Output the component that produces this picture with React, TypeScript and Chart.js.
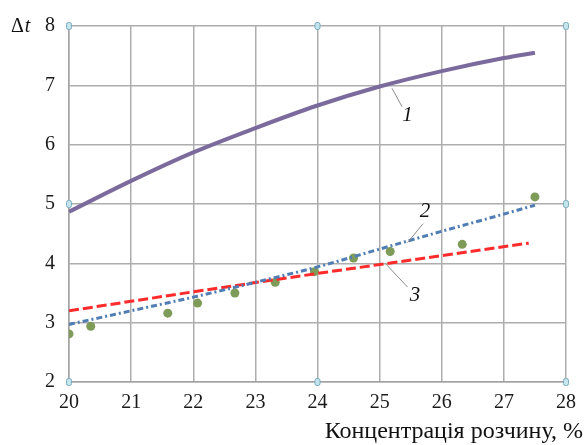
import React, { useEffect, useRef } from "react";
import { Chart, registerables } from "chart.js";

Chart.register(...registerables);

// Curve 1 (solid purple)
const c1X = [20, 21, 22, 23, 24, 25, 26, 27, 27.5];
const c1Y = [4.87, 5.39, 5.87, 6.28, 6.66, 6.98, 7.24, 7.46, 7.55];
// Curve 2 (blue dash-dot)
const c2X = [20, 21, 22, 23, 24, 25, 26, 27, 27.5];
const c2Y = [2.97, 3.2, 3.43, 3.68, 3.94, 4.24, 4.54, 4.83, 4.98];
// Curve 3 (red dashed)
const c3X = [20, 22, 24, 26, 27.4];
const c3Y = [3.2, 3.52, 3.83, 4.13, 4.34];
// Experimental points
const ptX = [20, 20.35, 21.59, 22.07, 22.67, 23.32, 23.95, 24.58, 25.17, 26.33, 27.5];
const ptY = [2.81, 2.94, 3.16, 3.33, 3.5, 3.68, 3.86, 4.09, 4.2, 4.32, 5.12];

const xTicks = [20, 21, 22, 23, 24, 25, 26, 27, 28];
const yTicks = [2, 3, 4, 5, 6, 7, 8];
const xTitle = "Концентрація розчину, %";

// curve annotations in data units: label, label pos, leader start, leader end
const notes = [
  { t: "1", lx: 25.45, ly: 6.5, ax: 25.2, ay: 6.95, bx: 25.36, by: 6.64 },
  { t: "2", lx: 25.73, ly: 4.88, ax: 25.45, ay: 4.35, bx: 25.7, by: 4.67 },
  { t: "3", lx: 25.57, ly: 3.45, ax: 25.09, ay: 4.0, bx: 25.45, by: 3.6 },
];

const SERIF = "'Liberation Serif', 'DejaVu Serif', serif";

const toXY = (xs: number[], ys: number[]) => xs.map((x, i) => ({ x, y: ys[i] }));

export default function App() {
  const ref = useRef<HTMLCanvasElement | null>(null);
  useEffect(() => {
    document.body.style.margin = "0";
    const overlay = {
      id: "overlay",
      afterDraw(chart: any) {
        const ctx = chart.ctx;
        const xs = chart.scales.x;
        const ys = chart.scales.y;
        const a = chart.chartArea;
        ctx.save();
        // annotations
        for (const n of notes) {
          ctx.strokeStyle = "#8a8a8a";
          ctx.lineWidth = 1;
          ctx.beginPath();
          ctx.moveTo(xs.getPixelForValue(n.ax), ys.getPixelForValue(n.ay));
          ctx.lineTo(xs.getPixelForValue(n.bx), ys.getPixelForValue(n.by));
          ctx.stroke();
          ctx.fillStyle = "#111";
          ctx.font = `italic 21px ${SERIF}`;
          ctx.textAlign = "center";
          ctx.textBaseline = "middle";
          ctx.fillText(n.t, xs.getPixelForValue(n.lx), ys.getPixelForValue(n.ly));
        }
        // handles
        const mx = (a.left + a.right) / 2;
        const my = (a.top + a.bottom) / 2;
        const hs = [
          [a.left, a.top], [mx, a.top], [a.right, a.top],
          [a.left, my], [a.right, my],
          [a.left, a.bottom], [mx, a.bottom], [a.right, a.bottom],
        ];
        for (const [hx, hy] of hs) {
          ctx.fillStyle = "#c4e4ee";
          ctx.strokeStyle = "#7aaabb";
          ctx.lineWidth = 1;
          ctx.beginPath();
          (ctx as any).roundRect(hx - 2.5, hy - 3.5, 5, 7, 2);
          ctx.fill();
          ctx.stroke();
        }
        // Δt label
        ctx.fillStyle = "#111";
        ctx.textAlign = "left";
        ctx.textBaseline = "alphabetic";
        ctx.font = `20px ${SERIF}`;
        ctx.fillText("Δ", 11, 32);
        const w = ctx.measureText("Δ").width;
        ctx.font = `italic 20px ${SERIF}`;
        ctx.fillText("t", 11 + w + 1, 32);
        // x title
        ctx.font = `24px ${SERIF}`;
        ctx.textAlign = "right";
        ctx.fillText(xTitle, 583, 438);
        ctx.restore();
      },
    };
    const chart = new Chart(ref.current as HTMLCanvasElement, {
      type: "scatter",
      data: {
        datasets: [
          {
            label: "1",
            data: toXY(c1X, c1Y),
            showLine: true,
            borderColor: "#7b6a9c",
            borderWidth: 4,
            pointRadius: 0,
            cubicInterpolationMode: "monotone",
          },
          {
            label: "2",
            data: toXY(c2X, c2Y),
            showLine: true,
            borderColor: "#4f7db4",
            borderWidth: 3,
            borderDash: [6, 3, 2, 3],
            pointRadius: 0,
            cubicInterpolationMode: "monotone",
          },
          {
            label: "3",
            data: toXY(c3X, c3Y),
            showLine: true,
            borderColor: "#ff2a2a",
            borderWidth: 3,
            borderDash: [10, 4],
            pointRadius: 0,
          },
          {
            label: "exp",
            data: toXY(ptX, ptY),
            showLine: false,
            backgroundColor: "#7e9b58",
            borderColor: "#7e9b58",
            pointRadius: 4.5,
            borderWidth: 0,
          },
        ] as any,
      },
      options: {
        animation: false,
        responsive: false,
        maintainAspectRatio: false,
        layout: { padding: { top: 22, right: 20, left: 0, bottom: 0 } },
        plugins: { legend: { display: false }, tooltip: { enabled: false } },
        scales: {
          x: {
            type: "linear",
            min: 20,
            max: 28,
            afterBuildTicks: (s: any) => {
              s.ticks = xTicks.map((v) => ({ value: v }));
            },
            afterFit: (s: any) => {
              s.height = 63;
            },
            grid: { color: "#adadad", lineWidth: 1.5, drawTicks: false },
            border: { color: "#a3a3a3", width: 1.5 },
            ticks: {
              color: "#1a1a1a",
              font: { family: SERIF, size: 20 },
              padding: 9,
              maxRotation: 0,
            },
          },
          y: {
            type: "linear",
            min: 2,
            max: 8,
            afterBuildTicks: (s: any) => {
              s.ticks = yTicks.map((v) => ({ value: v }));
            },
            afterFit: (s: any) => {
              s.width = 69;
            },
            grid: { color: "#adadad", lineWidth: 1.5, drawTicks: false },
            border: { color: "#a3a3a3", width: 1.5 },
            ticks: {
              color: "#1a1a1a",
              font: { family: SERIF, size: 20 },
              padding: 14,
            },
          },
        },
      },
      plugins: [overlay],
    } as any);
    return () => chart.destroy();
  }, []);
  return (
    <div style={{ position: "fixed", left: 0, top: 0, width: 586, height: 445, background: "#fff" }}>
      <canvas ref={ref} width={586} height={445} style={{ display: "block", width: 586, height: 445 }} />
    </div>
  );
}
